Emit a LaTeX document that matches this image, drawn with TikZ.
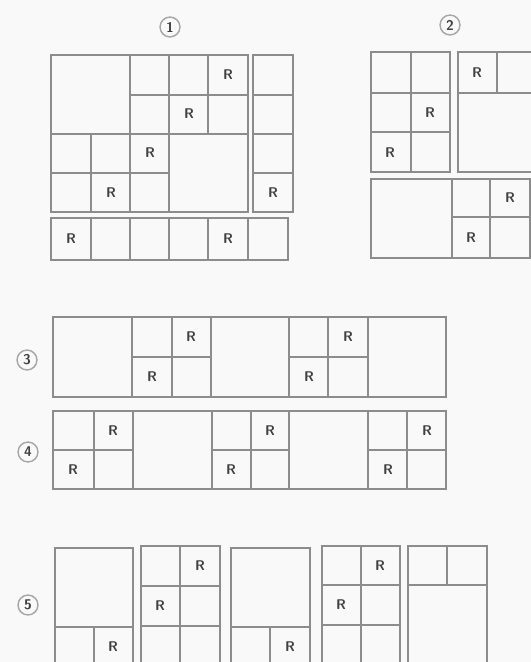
\documentclass[tikz,border=0pt]{standalone}
\usepackage{tikz}
\usetikzlibrary{positioning}
\tikzset{
  gridbox/.style={draw=black!45,line width=1.3pt},
  gridlin/.style={draw=black!45,line width=1.2pt},
  rlab/.style={font=\sffamily\bfseries\fontsize{12}{14}\selectfont,text=black!75,inner sep=0pt},
  numlab/.style={circle,draw=black!35,line width=1.2pt,minimum size=17pt,inner sep=0pt,
    font=\sffamily\bfseries\fontsize{12}{14}\selectfont,text=black!75}
}

\begin{document}
\begin{tikzpicture}[x=0.03cm,y=-0.03cm]
  \useasboundingbox (0,0) rectangle (531,662);
  \clip (0,0) rectangle (531,662);
  \fill[gray!5] (0,0) rectangle (531,662);
  % figure 1
  \node[numlab] (n1) at (170,27) {1};
  \draw[gridbox] (51,55) rectangle (248,212);
  \draw[gridlin] (130,55)--(130,212) (169,55)--(169,212) (208,55)--(208,134)
    (51,134)--(248,134) (130,95)--(248,95) (91,134)--(91,212) (51,173)--(169,173);
  \draw[gridbox] (253,55) rectangle (293,212);
  \draw[gridlin] (253,95)--(293,95) (253,134)--(293,134) (253,173)--(293,173);
  \draw[gridbox] (51,218) rectangle (288,260);
  \draw[gridlin] (91,218)--(91,260) (130,218)--(130,260) (169,218)--(169,260)
    (208,218)--(208,260) (248,218)--(248,260);
  \foreach \p in {(228,75),(189,114),(150,153),(111,193),(273,193),(71,239),(228,239)}
    \node[rlab] at \p {R};
  % figure 2
  \node[numlab] (n2) at (450,25) {2};
  \draw[gridbox] (371,52) rectangle (450,172);
  \draw[gridlin] (411,52)--(411,172) (371,93)--(450,93) (371,132)--(450,132);
  \draw[gridbox] (458,52) rectangle (537,172);
  \draw[gridlin] (458,93)--(537,93) (497,52)--(497,93);
  \draw[gridbox] (371,179) rectangle (530,258);
  \draw[gridlin] (452,179)--(452,258) (490,179)--(490,258) (452,217)--(530,217);
  \foreach \p in {(430,113),(390,153),(477,73),(510,198),(471,238)}
    \node[rlab] at \p {R};
  % figure 3
  \node[numlab] (n3) at (27,360) {3};
  \draw[gridbox] (53,317) rectangle (446,397);
  \draw[gridlin] (132,317)--(132,397) (172,317)--(172,397) (211,317)--(211,397)
    (289,317)--(289,397) (328,317)--(328,397) (368,317)--(368,397)
    (132,357)--(211,357) (289,357)--(368,357);
  \foreach \p in {(191,337),(152,377),(348,337),(309,377)}
    \node[rlab] at \p {R};
  % figure 4
  \node[numlab] (n4) at (28,452) {4};
  \draw[gridbox] (53,411) rectangle (446,489);
  \draw[gridlin] (94,411)--(94,489) (133,411)--(133,489) (212,411)--(212,489)
    (251,411)--(251,489) (289,411)--(289,489) (368,411)--(368,489) (407,411)--(407,489)
    (53,450)--(133,450) (212,450)--(289,450) (368,450)--(446,450);
  \foreach \p in {(113,431),(73,470),(270,431),(231,470),(427,431),(388,470)}
    \node[rlab] at \p {R};
  % figure 5
  \node[numlab] (n5) at (28,605) {5};
  \draw[gridbox] (55,548) rectangle (133,680);
  \draw[gridlin] (55,627)--(133,627) (94,627)--(94,680);
  \draw[gridbox] (141,546) rectangle (220,680);
  \draw[gridlin] (180,546)--(180,680) (141,586)--(220,586) (141,626)--(220,626);
  \draw[gridbox] (231,548) rectangle (310,680);
  \draw[gridlin] (231,627)--(310,627) (270,627)--(270,680);
  \draw[gridbox] (322,546) rectangle (400,680);
  \draw[gridlin] (361,546)--(361,680) (322,585)--(400,585) (322,625)--(400,625);
  \draw[gridbox] (408,546) rectangle (487,680);
  \draw[gridlin] (447,546)--(447,585) (408,585)--(487,585);
  \foreach \p in {(113,647),(200,566),(160,606),(290,647),(380,566),(341,605)}
    \node[rlab] at \p {R};
\end{tikzpicture}
\end{document}
